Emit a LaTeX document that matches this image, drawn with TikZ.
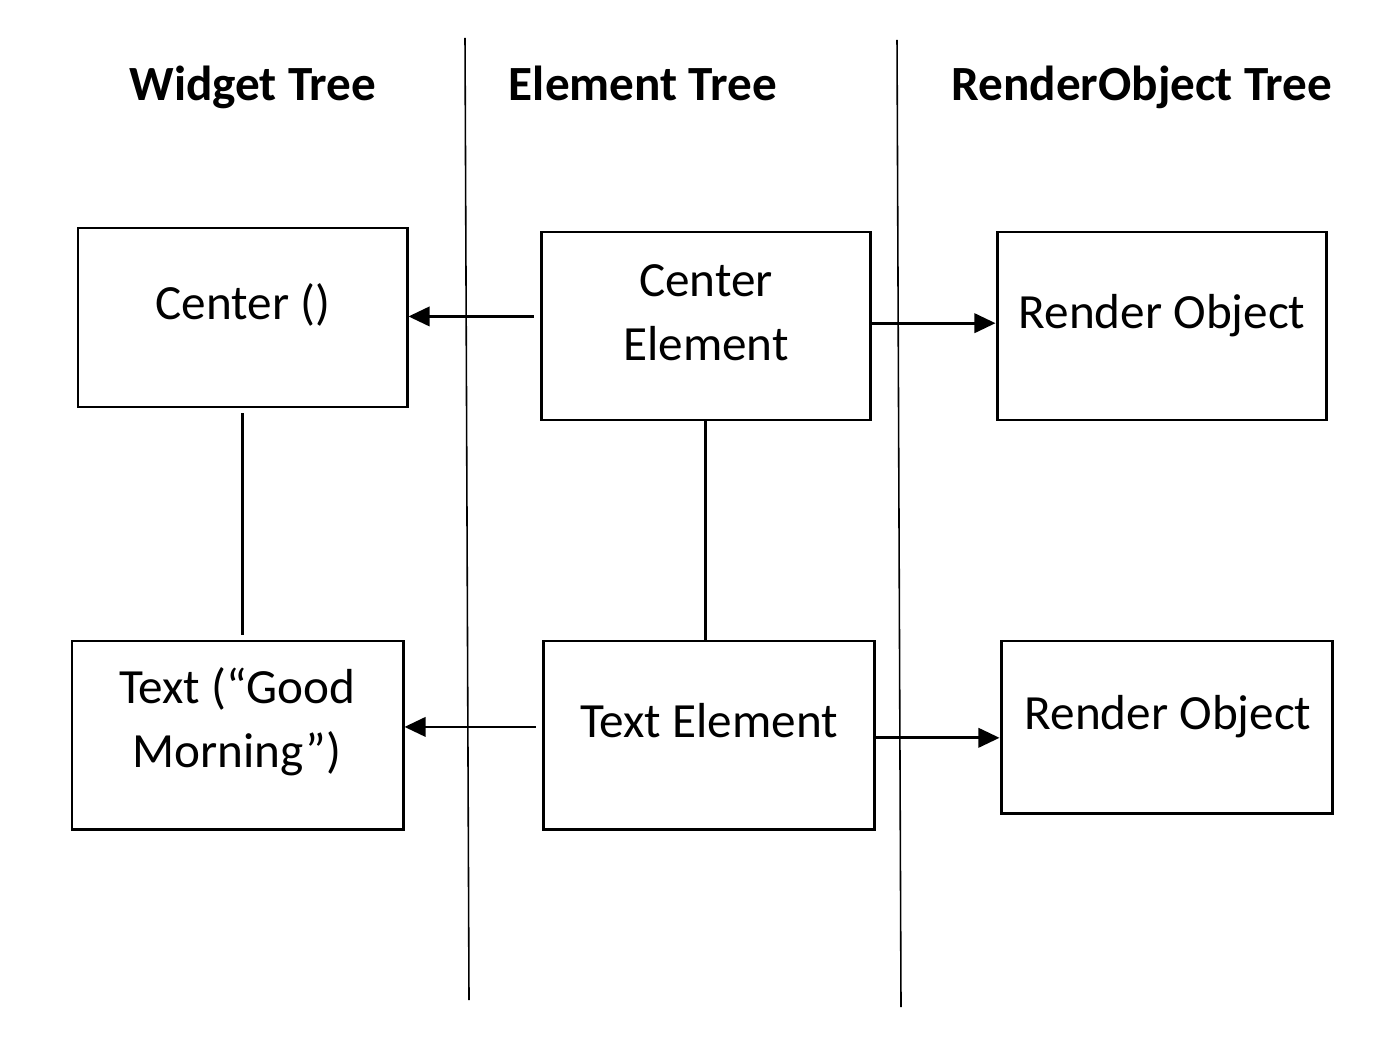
\documentclass[tikz,border=0pt]{standalone}
\usepackage{fontspec}
\setmainfont{Carlito}
\usetikzlibrary{arrows.meta}
\begin{document}
\begin{tikzpicture}[x=0.1mm, y=-0.1mm,
    box/.style={draw, line width=0.85pt, minimum width=32.9mm, minimum height=18.8mm},
    txt/.style={font=\fontsize{14}{18.2}\selectfont, align=center},
    head/.style={font=\fontsize{14}{18}\selectfont\bfseries, anchor=base},
    arr/.style={-{Triangle[length=6pt, width=5.5pt]}, line width=0.8pt},
    link/.style={line width=0.75pt},
    sep/.style={line width=0.45pt}]
    \useasboundingbox (0,0) rectangle (1400,1042);
        \node[head] (hwidget) at (253,101) {Widget Tree};
        \node[head] (helement) at (643,101) {Element Tree};
        \node[head] (hrender) at (1142,101) {RenderObject Tree};
        \coordinate (sepa) at (465,38);
        \coordinate (sepb) at (469,1000);
        \coordinate (sepc) at (897,40);
        \coordinate (sepd) at (901,1007);
        \draw[sep] (sepa) -- (sepb);
        \draw[sep] (sepc) -- (sepd);
        \node[box, minimum height=17.9mm] (cwidget) at (242.5,317.5) {};
        \node[box] (celement) at (705.5,326) {};
        \node[box] (crender) at (1161.5,326) {};
        \node[box, minimum width=33.1mm] (twidget) at (237.5,735) {};
        \node[box, minimum width=33.1mm] (telement) at (708.5,735) {};
        \node[box, minimum width=33.1mm, minimum height=17.2mm] (trender) at (1166.5,727) {};
        \node[txt] (cwidgettext) at (243,305) {Center ()};
        \node[txt] (celementtext) at (706,313) {Center\\Element};
        \node[txt] (crendertext) at (1162,316) {Render Object};
        \node[txt] (twidgettext) at (237,722) {Text (“Good\\Morning”)};
        \node[txt] (telementtext) at (709,721) {Text Element};
        \node[txt] (trendertext) at (1168,717) {Render Object};
        \draw[arr, shorten <=0.6mm] ([yshift=0.3pt]celement.west |- cwidget.east) -- ([yshift=0.3pt]cwidget.east);
        \draw[arr] ([yshift=0.8pt]celement.east) -- ([yshift=0.8pt]crender.west);
        \draw[arr, shorten <=0.6mm] ([yshift=2.3pt]telement.west) -- ([yshift=2.3pt]twidget.east);
        \draw[arr] ([yshift=-0.8pt]telement.east) -- ([yshift=-0.8pt]trender.west |- telement.east);
        \draw[link, shorten <=0.5mm, shorten >=0.5mm] (cwidget.south) -- (cwidget.south |- twidget.north);
        \draw[link] (celement.south) -- (celement.south |- telement.north);
    \end{tikzpicture}
\end{document}
